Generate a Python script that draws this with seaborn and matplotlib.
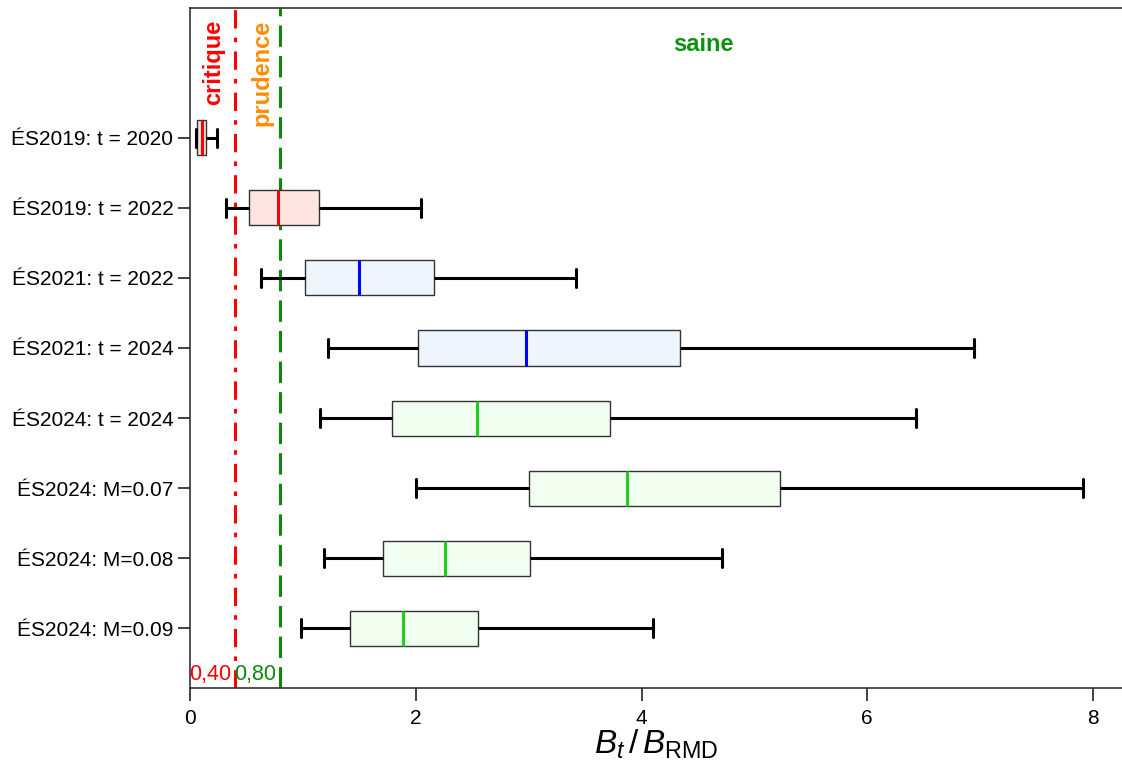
import numpy as np
import pandas as pd
import matplotlib
matplotlib.use("Agg")
import matplotlib.pyplot as plt
import seaborn as sns

# ---- data ----
labels = ["ÉS2019: t = 2020", "ÉS2019: t = 2022", "ÉS2021: t = 2022", "ÉS2021: t = 2024",
          "ÉS2024: t = 2024", "ÉS2024: M=0.07", "ÉS2024: M=0.08", "ÉS2024: M=0.09"]
groups = ["2019", "2019", "2021", "2021", "2024", "2024", "2024", "2024"]
whisk_lo = [0.05, 0.32, 0.63, 1.22, 1.15, 2.00, 1.19, 0.98]
q1 = [0.06, 0.525, 1.02, 2.02, 1.79, 3.00, 1.71, 1.415]
median = [0.11, 0.78, 1.50, 2.98, 2.54, 3.87, 2.26, 1.89]
q3 = [0.14, 1.145, 2.16, 4.34, 3.72, 5.23, 3.01, 2.55]
whisk_hi = [0.24, 2.05, 3.42, 6.95, 6.43, 7.91, 4.71, 4.10]

crit_limit = 0.40
prud_limit = 0.80
x_ticks = [0, 2, 4, 6, 8]

fill_colors = {"2019": "#FFE4E1", "2021": "#EEF5FD", "2024": "#F0FFF0"}
median_colors = {"2019": "#FF0000", "2021": "#0000FF", "2024": "#22CC22"}

# five-number summaries -> rows (quartiles reproduced exactly with 5 points)
rows = []
for lab, g, a, b, c, d, e in zip(labels, groups, whisk_lo, q1, median, q3, whisk_hi):
    for v in (a, b, c, d, e):
        rows.append({"label": lab, "group": g, "value": v})
df = pd.DataFrame(rows)

sns.set_theme(style="white")
plt.rcParams["font.family"] = ["Liberation Sans", "DejaVu Sans"]
plt.rcParams["mathtext.fontset"] = "custom"
plt.rcParams["mathtext.rm"] = "Liberation Sans"
plt.rcParams["mathtext.it"] = "Liberation Sans:italic"

fig = plt.figure(figsize=(11.22, 7.64), dpi=100)
ax = fig.add_axes([190 / 1122, 76 / 764, 1 - 190 / 1122, (688 - 8) / 764])

for g in ["2019", "2021", "2024"]:
    sub = df[df["group"] == g]
    sns.boxplot(data=sub, x="value", y="label", order=labels, orient="h",
                color=fill_colors[g], linecolor="#333333", whis=(0, 100),
                width=0.5, fliersize=0, ax=ax,
                boxprops=dict(facecolor=fill_colors[g], edgecolor="#333333", linewidth=1.0),
                whiskerprops=dict(color="black", linewidth=2.2),
                capprops=dict(color="black", linewidth=2.2),
                medianprops=dict(color=median_colors[g], linewidth=2.2))

ax.axvline(crit_limit, color="#FF0000", linestyle=(0, (6, 3, 1.5, 3)), linewidth=2.2, zorder=0)
ax.axvline(prud_limit, color="#0A8A0A", linestyle=(0, (7, 3)), linewidth=2.2, zorder=0)

ax.set_xlim(0, (1122 - 190) / 112.875)
ax.set_ylim(7.857, -1.857)
ax.set_xticks(x_ticks)
ax.set_xticklabels([str(t) for t in x_ticks])
ax.tick_params(axis="both", which="both", direction="out", length=9, width=1.2,
               color="#222222", labelcolor="black", labelsize=15, left=True, bottom=True)
ax.tick_params(axis="x", pad=6)
ax.tick_params(axis="y", labelsize=15, pad=3)
for side in ["left", "bottom", "top"]:
    ax.spines[side].set_visible(True)
    ax.spines[side].set_color("#333333")
    ax.spines[side].set_linewidth(1.2)
ax.spines["right"].set_visible(False)
ax.set_ylabel("")
ax.set_xlabel(r"$B_t\,/\,B_{\mathrm{RMD}}$", fontsize=24, labelpad=0, color="black")

ax.text(0.21, -1.686, "critique", rotation=90, color="#FF0000", fontweight="bold",
        fontsize=17, ha="center", va="top")
ax.text(0.635, -1.686, "prudence", rotation=90, color="#FF8C00", fontweight="bold",
        fontsize=17, ha="center", va="top")
ax.text(4.55, -1.33, "saine", color="#109010", fontweight="bold", fontsize=17,
        ha="center", va="center")
ax.text(crit_limit - 0.035, 7.66, "0,40", color="#FF0000", fontsize=15.5, ha="right", va="center")
ax.text(prud_limit - 0.035, 7.66, "0,80", color="#0A8A0A", fontsize=15.5, ha="right", va="center")

fig.savefig("out.png", dpi=100)
